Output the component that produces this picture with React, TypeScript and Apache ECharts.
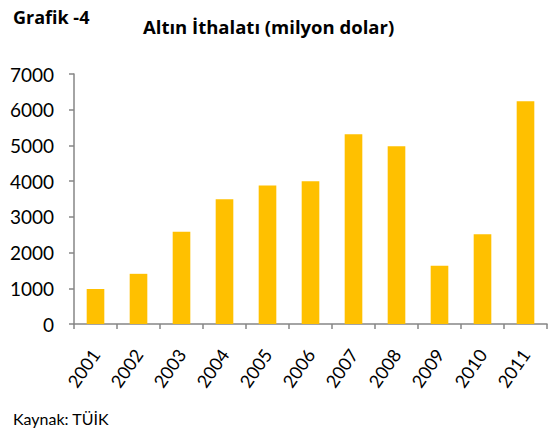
import React, { useEffect, useRef } from "react";
import * as echarts from "echarts";

const years = ["2001", "2002", "2003", "2004", "2005", "2006", "2007", "2008", "2009", "2010", "2011"];
const imports = [980, 1405, 2580, 3490, 3880, 4000, 5310, 4980, 1630, 2510, 6240];
const yTicks = [0, 1000, 2000, 3000, 4000, 5000, 6000, 7000];

const FONT = "Lato, 'Open Sans', sans-serif";
const TITLE_FONT = "'Open Sans', Lato, sans-serif";

export default function App() {
  const ref = useRef<HTMLDivElement>(null);
  useEffect(() => {
    const chart = echarts.init(ref.current!, null, { renderer: "svg" });
    chart.setOption({
      animation: false,
      backgroundColor: "#ffffff",
      title: [
        {
          text: "Grafik -4",
          left: 8,
          top: 3,
          textStyle: { fontFamily: TITLE_FONT, fontSize: 18, fontWeight: "bold", color: "#000" },
        },
        {
          text: "Altın İthalatı (milyon dolar)",
          left: 138,
          top: 12,
          textStyle: { fontFamily: TITLE_FONT, fontSize: 18.5, fontWeight: "bold", color: "#000" },
        },
        {
          text: "Kaynak: TÜİK",
          left: 8,
          top: 405,
          textStyle: { fontFamily: FONT, fontSize: 16, fontWeight: "normal", color: "#000" },
        },
      ],
      grid: { left: 74, right: 3, top: 74, bottom: 105, containLabel: false },
      xAxis: {
        type: "category",
        data: years,
        axisLine: { lineStyle: { color: "#868686", width: 1.5 } },
        axisTick: { show: true, alignWithLabel: false, length: 5, lineStyle: { color: "#868686", width: 1.5 } },
        axisLabel: {
          rotate: 55,
          margin: 27,
          fontFamily: FONT,
          fontSize: 18,
          color: "#000",
          interval: 0,
        },
      },
      yAxis: {
        type: "value",
        min: yTicks[0],
        max: yTicks[yTicks.length - 1],
        interval: 1000,
        splitLine: { show: false },
        axisLine: { show: true, lineStyle: { color: "#868686", width: 1.5 } },
        axisTick: { show: true, length: 5, lineStyle: { color: "#868686", width: 1.5 } },
        axisLabel: {
          fontFamily: FONT,
          fontSize: 19,
          color: "#000",
          margin: 20,
          formatter: (v: number) => String(v),
        },
      },
      series: [
        {
          type: "bar",
          data: imports,
          barWidth: "41%",
          itemStyle: { color: "#FFC000" },
        },
      ],
    });
    return () => chart.dispose();
  }, []);
  return (
    <div
      ref={ref}
      style={{ width: 550, height: 429, position: "absolute", left: 0, top: 0 }}
    />
  );
}
